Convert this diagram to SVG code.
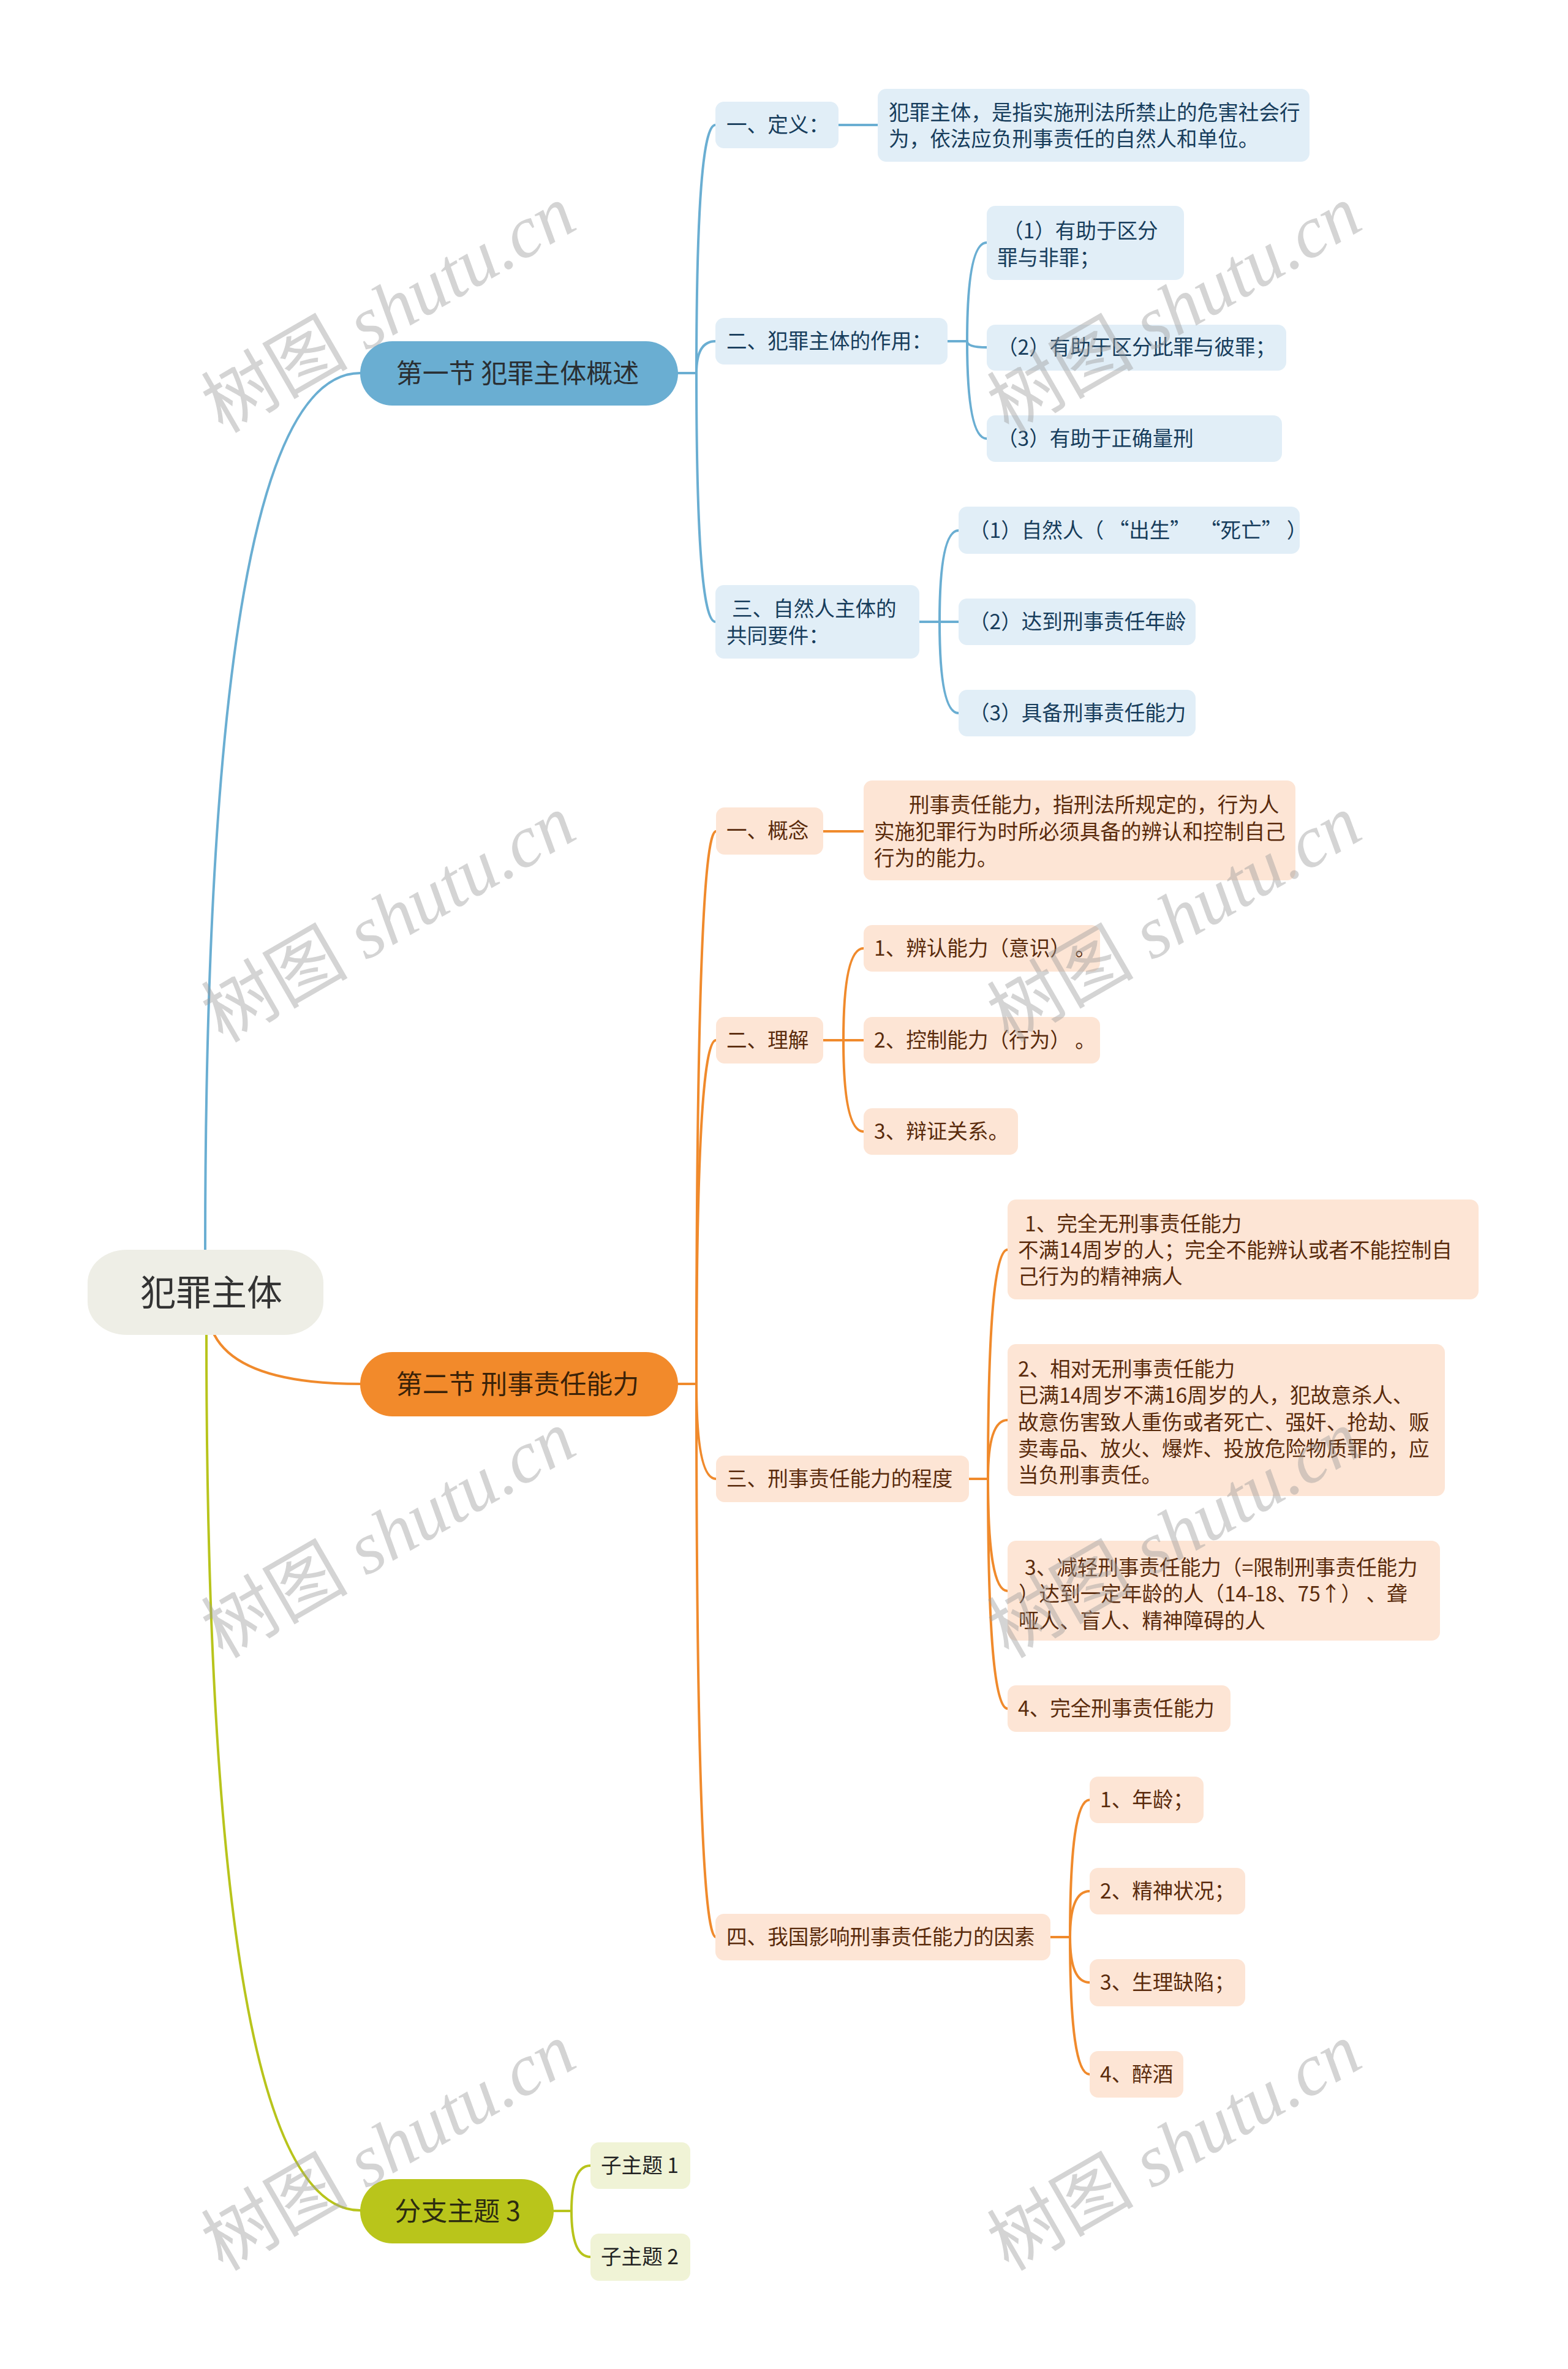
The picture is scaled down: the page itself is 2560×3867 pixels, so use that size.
<svg xmlns="http://www.w3.org/2000/svg" width="2560" height="3867" viewBox="0 0 2560 3867">
<style>
.c{fill:none;stroke-width:4;stroke-linecap:round}
.cb{stroke:#6aaed2}
.co{stroke:#f08a2c}
.cl{stroke:#b8c41c}
.bb{fill:#e1eef7}
.bo{fill:#fde5d5}
.bl{fill:#f0f3d6}
text{font-family:"Noto Sans CJK SC","Noto Sans",sans-serif}
.t{font-size:33.6px}
.tb{fill:#173d5c}
.to{fill:#5a2b0c}
.tl{fill:#222222}
.m{font-size:43px;text-anchor:middle}
.wm{font-size:120px;fill:#9a9a9a;opacity:0.42;text-anchor:middle}
</style>
<rect x="0" y="0" width="2560" height="3867" fill="#ffffff"/>

<g id="connectors">
  <path class="c cb" stroke-width="4.5" d="M335,2040 Q335,609 588,609"/>
  <path class="c co" stroke-width="4.5" d="M350,2179 Q392,2259 588,2259"/>
  <path class="c cl" stroke-width="4.5" d="M337,2179 Q337,3608 588,3608"/>

  <path class="c cb" d="M1107,609 L1137,609 Q1137,204 1168,204"/>
  <path class="c cb" d="M1107,609 L1137,609 Q1137,557 1168,557"/>
  <path class="c cb" d="M1107,609 L1137,609 Q1137,1015 1168,1015"/>
  <path class="c cb" d="M1369,204 L1433,204"/>
  <path class="c cb" d="M1547,557 L1579,557 Q1579,396 1611,396"/>
  <path class="c cb" d="M1547,557 L1579,557 Q1579,567 1611,567"/>
  <path class="c cb" d="M1547,557 L1579,557 Q1579,716 1611,716"/>
  <path class="c cb" d="M1501,1015 L1534,1015 Q1534,866 1565,866"/>
  <path class="c cb" d="M1501,1015 L1565,1015"/>
  <path class="c cb" d="M1501,1015 L1534,1015 Q1534,1164 1565,1164"/>

  <path class="c co" d="M1107,2259 L1137,2259 Q1137,1357 1169,1357"/>
  <path class="c co" d="M1107,2259 L1137,2259 Q1137,1698 1169,1698"/>
  <path class="c co" d="M1107,2259 L1137,2259 Q1137,2414 1169,2414"/>
  <path class="c co" d="M1107,2259 L1137,2259 Q1137,3162 1169,3162"/>
  <path class="c co" d="M1344,1357 L1410,1357"/>
  <path class="c co" d="M1344,1698 L1377,1698 Q1377,1548 1410,1548"/>
  <path class="c co" d="M1344,1698 L1410,1698"/>
  <path class="c co" d="M1344,1698 L1377,1698 Q1377,1847 1410,1847"/>
  <path class="c co" d="M1582,2414 L1613,2414 Q1613,2040 1645,2040"/>
  <path class="c co" d="M1582,2414 L1613,2414 Q1613,2318 1645,2318"/>
  <path class="c co" d="M1582,2414 L1613,2414 Q1613,2597 1645,2597"/>
  <path class="c co" d="M1582,2414 L1613,2414 Q1613,2789 1645,2789"/>
  <path class="c co" d="M1715,3162 L1747,3162 Q1747,2938 1779,2938"/>
  <path class="c co" d="M1715,3162 L1747,3162 Q1747,3087 1779,3087"/>
  <path class="c co" d="M1715,3162 L1747,3162 Q1747,3236 1779,3236"/>
  <path class="c co" d="M1715,3162 L1747,3162 Q1747,3386 1779,3386"/>

  <path class="c cl" d="M904,3609 L933,3609 Q933,3535 964,3535"/>
  <path class="c cl" d="M904,3609 L933,3609 Q933,3684 964,3684"/>
</g>

<g id="root">
  <rect x="143" y="2040" width="385" height="139" rx="64" ry="54" fill="#eeeee6"/>
  <text x="345" y="2131" font-size="58" text-anchor="middle" fill="#333333">犯罪主体</text>
</g>

<g id="main1">
  <rect x="588" y="557" width="519" height="105" rx="52.5" fill="#6aaed2"/>
  <text class="m" x="845" y="625" fill="#2a2f33">第一节 犯罪主体概述</text>
</g>
<g id="main2">
  <rect x="588" y="2207" width="519" height="105" rx="52.5" fill="#f28a2b"/>
  <text class="m" x="845" y="2275" fill="#3b2208">第二节 刑事责任能力</text>
</g>
<g id="main3">
  <rect x="588" y="3557" width="316" height="105" rx="52.5" fill="#b9c51b"/>
  <text class="m" x="747" y="3625" fill="#2c2c10">分支主题 3</text>
</g>

<g id="b1">
  <rect class="bb" x="1168" y="166" width="201" height="76" rx="14"/>
  <text class="t tb" x="1186" y="216">一、定义：</text>
</g>
<g id="b1a">
  <rect class="bb" x="1433" y="145" width="705" height="119" rx="14"/>
  <text class="t tb" x="1451" y="196">犯罪主体，是指实施刑法所禁止的危害社会行</text>
  <text class="t tb" x="1451" y="239">为，依法应负刑事责任的自然人和单位。</text>
</g>
<g id="b2">
  <rect class="bb" x="1168" y="519" width="379" height="76" rx="14"/>
  <text class="t tb" x="1186" y="569">二、犯罪主体的作用：</text>
</g>
<g id="b2a">
  <rect class="bb" x="1611" y="336" width="322" height="121" rx="14"/>
  <text class="t tb" x="1637" y="389">（1）有助于区分</text>
  <text class="t tb" x="1628" y="433">罪与非罪；</text>
</g>
<g id="b2b">
  <rect class="bb" x="1611" y="530" width="489" height="75" rx="14"/>
  <text class="t tb" x="1628" y="579">（2）有助于区分此罪与彼罪；</text>
</g>
<g id="b2c">
  <rect class="bb" x="1611" y="678" width="482" height="76" rx="14"/>
  <text class="t tb" x="1628" y="728">（3）有助于正确量刑</text>
</g>
<g id="b3">
  <rect class="bb" x="1168" y="955" width="333" height="120" rx="14"/>
  <text class="t tb" x="1195" y="1006">三、自然人主体的</text>
  <text class="t tb" x="1186" y="1050">共同要件：</text>
</g>
<g id="b3a">
  <rect class="bb" x="1565" y="827" width="557" height="77" rx="14"/>
  <text class="t tb" x="1582" y="878" xml:space="preserve">（1）自然人（ “出生”  “死亡” ）</text>
</g>
<g id="b3b">
  <rect class="bb" x="1565" y="977" width="387" height="76" rx="14"/>
  <text class="t tb" x="1582" y="1027">（2）达到刑事责任年龄</text>
</g>
<g id="b3c">
  <rect class="bb" x="1565" y="1126" width="387" height="76" rx="14"/>
  <text class="t tb" x="1582" y="1176">（3）具备刑事责任能力</text>
</g>

<g id="o1">
  <rect class="bo" x="1169" y="1318" width="175" height="77" rx="14"/>
  <text class="t to" x="1186" y="1368">一、概念</text>
</g>
<g id="o1a">
  <rect class="bo" x="1410" y="1274" width="705" height="163" rx="14"/>
  <text class="t to" x="1484" y="1326">刑事责任能力，指刑法所规定的，行为人</text>
  <text class="t to" x="1427" y="1370">实施犯罪行为时所必须具备的辨认和控制自己</text>
  <text class="t to" x="1427" y="1413">行为的能力。</text>
</g>
<g id="o2">
  <rect class="bo" x="1169" y="1660" width="175" height="76" rx="14"/>
  <text class="t to" x="1186" y="1710">二、理解</text>
</g>
<g id="o2a">
  <rect class="bo" x="1410" y="1510" width="386" height="76" rx="14"/>
  <text class="t to" x="1427" y="1560" xml:space="preserve">1、辨认能力（意识） 。</text>
</g>
<g id="o2b">
  <rect class="bo" x="1410" y="1660" width="386" height="76" rx="14"/>
  <text class="t to" x="1427" y="1710" xml:space="preserve">2、控制能力（行为） 。</text>
</g>
<g id="o2c">
  <rect class="bo" x="1410" y="1809" width="252" height="76" rx="14"/>
  <text class="t to" x="1427" y="1859">3、辩证关系。</text>
</g>
<g id="o3">
  <rect class="bo" x="1169" y="2376" width="413" height="76" rx="14"/>
  <text class="t to" x="1186" y="2426">三、刑事责任能力的程度</text>
</g>
<g id="o3a">
  <rect class="bo" x="1645" y="1958" width="769" height="163" rx="14"/>
  <text class="t to" x="1673" y="2010">1、完全无刑事责任能力</text>
  <text class="t to" x="1662" y="2053">不满14周岁的人；完全不能辨认或者不能控制自</text>
  <text class="t to" x="1662" y="2096">己行为的精神病人</text>
</g>
<g id="o3b">
  <rect class="bo" x="1645" y="2194" width="714" height="248" rx="14"/>
  <text class="t to" x="1662" y="2247">2、相对无刑事责任能力</text>
  <text class="t to" x="1662" y="2290">已满14周岁不满16周岁的人，犯故意杀人、</text>
  <text class="t to" x="1662" y="2334">故意伤害致人重伤或者死亡、强奸、抢劫、贩</text>
  <text class="t to" x="1662" y="2377">卖毒品、放火、爆炸、投放危险物质罪的，应</text>
  <text class="t to" x="1662" y="2420">当负刑事责任。</text>
</g>
<g id="o3c">
  <rect class="bo" x="1645" y="2515" width="706" height="163" rx="14"/>
  <text class="t to" x="1673" y="2571">3、减轻刑事责任能力（=限制刑事责任能力</text>
  <text class="t to" x="1663" y="2614" xml:space="preserve">）达到一定年龄的人（14-18、75↑） 、聋</text>
  <text class="t to" x="1663" y="2658">哑人、盲人、精神障碍的人</text>
</g>
<g id="o3d">
  <rect class="bo" x="1645" y="2751" width="364" height="76" rx="14"/>
  <text class="t to" x="1662" y="2801">4、完全刑事责任能力</text>
</g>
<g id="o4">
  <rect class="bo" x="1168" y="3124" width="547" height="76" rx="14"/>
  <text class="t to" x="1186" y="3174">四、我国影响刑事责任能力的因素</text>
</g>
<g id="o4a">
  <rect class="bo" x="1779" y="2900" width="186" height="76" rx="14"/>
  <text class="t to" x="1796" y="2950">1、年龄；</text>
</g>
<g id="o4b">
  <rect class="bo" x="1779" y="3049" width="254" height="76" rx="14"/>
  <text class="t to" x="1796" y="3099">2、精神状况；</text>
</g>
<g id="o4c">
  <rect class="bo" x="1779" y="3198" width="254" height="77" rx="14"/>
  <text class="t to" x="1796" y="3248">3、生理缺陷；</text>
</g>
<g id="o4d">
  <rect class="bo" x="1779" y="3348" width="153" height="76" rx="14"/>
  <text class="t to" x="1796" y="3398">4、醉酒</text>
</g>

<g id="l1">
  <rect class="bl" x="964" y="3497" width="163" height="76" rx="14"/>
  <text class="t tl" x="981" y="3547">子主题 1</text>
</g>
<g id="l2">
  <rect class="bl" x="964" y="3646" width="163" height="77" rx="14"/>
  <text class="t tl" x="981" y="3696">子主题 2</text>
</g>

<g id="watermarks">
  <text class="wm" x="655" y="540" transform="rotate(-30 655 540)">树图<tspan font-family="Liberation Serif,serif" font-style="italic"> shutu.cn</tspan></text>
  <text class="wm" x="1938" y="540" transform="rotate(-30 1938 540)">树图<tspan font-family="Liberation Serif,serif" font-style="italic"> shutu.cn</tspan></text>
  <text class="wm" x="655" y="1535" transform="rotate(-30 655 1535)">树图<tspan font-family="Liberation Serif,serif" font-style="italic"> shutu.cn</tspan></text>
  <text class="wm" x="1938" y="1535" transform="rotate(-30 1938 1535)">树图<tspan font-family="Liberation Serif,serif" font-style="italic"> shutu.cn</tspan></text>
  <text class="wm" x="655" y="2540" transform="rotate(-30 655 2540)">树图<tspan font-family="Liberation Serif,serif" font-style="italic"> shutu.cn</tspan></text>
  <text class="wm" x="1938" y="2540" transform="rotate(-30 1938 2540)">树图<tspan font-family="Liberation Serif,serif" font-style="italic"> shutu.cn</tspan></text>
  <text class="wm" x="655" y="3540" transform="rotate(-30 655 3540)">树图<tspan font-family="Liberation Serif,serif" font-style="italic"> shutu.cn</tspan></text>
  <text class="wm" x="1938" y="3540" transform="rotate(-30 1938 3540)">树图<tspan font-family="Liberation Serif,serif" font-style="italic"> shutu.cn</tspan></text>
</g>
</svg>
